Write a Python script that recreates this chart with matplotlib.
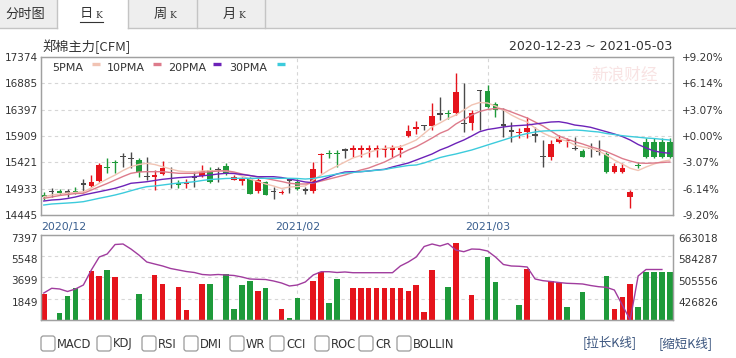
import matplotlib
matplotlib.use('Agg')
import matplotlib.pyplot as plt
import matplotlib.transforms as mtransforms
from matplotlib.patches import Rectangle, FancyBboxPatch
import numpy as np

plt.rcParams['font.family'] = ['DejaVu Sans', 'Noto Sans CJK SC']
CJK = ['Noto Sans CJK SC', 'DejaVu Sans']

# ---------------- data ----------------
opens = [14834, 14877, 14890, 14871, 14890, 15020, 15001, 15094, 15339, 15437,
         15526, 15496, 15478, 15155, 15155, 15218, 15229, 15038, 15029, 15149,
         15186, 15292, 15292, 15372, 15107, 15094, 15125, 14895, 15062, 14877,
         14858, 15094, 15062, 14908, 14908, 15567, 15598, 15598, 15650, 15663,
         15663, 15663, 15663, 15663, 15663, 15663, 15928, 16045, 16101, 16101,
         16317, 16340, 16342, 16145, 16164, 16749, 16749, 16516, 16113, 16002,
         15980, 15989, 15928, 15526, 15526, 15804, 15826, 15681, 15650, 15681,
         15618, 15589, 15261, 15261, 14784, 15381, 15804, 15804, 15804, 15804]
highs = [14877, 14945, 14927, 14927, 14958, 15107, 15186, 15403, 15502, 15464,
         15589, 15607, 15496, 15520, 15279, 15452, 15340, 15094, 15107, 15242,
         15372, 15340, 15335, 15403, 15186, 15155, 15155, 15125, 15081, 14970,
         14908, 15112, 15107, 14958, 15433, 15594, 15650, 15650, 15681, 15743,
         15743, 15743, 15743, 15743, 15743, 15743, 16113, 16193, 16113, 16516,
         16627, 16392, 17083, 16887, 16392, 16762, 16855, 16545, 16423, 16175,
         16052, 16267, 16071, 15835, 15835, 15928, 15867, 15897, 15669, 15774,
         15835, 15618, 15403, 15403, 14908, 15433, 15867, 15867, 15867, 15867]
lows = [14723, 14784, 14816, 14779, 14834, 14877, 14970, 15062, 15224, 15224,
        15340, 15311, 15155, 15094, 14908, 15186, 14940, 14945, 14940, 14964,
        15155, 15044, 15062, 15186, 15094, 15001, 14834, 14847, 14816, 14736,
        14834, 14853, 14908, 14834, 14847, 15218, 15496, 15340, 15496, 15526,
        15526, 15526, 15526, 15526, 15526, 15526, 15897, 15947, 16021, 16021,
        16206, 16219, 16299, 15989, 16021, 16021, 16423, 16267, 15891, 15804,
        15867, 15867, 15804, 15340, 15464, 15774, 15711, 15650, 15520, 15526,
        15557, 15218, 15218, 15218, 14569, 15311, 15496, 15496, 15496, 15496]
closes = [14797, 14877, 14871, 14871, 14871, 15020, 15062, 15385, 15320, 15418,
          15526, 15496, 15248, 15155, 15205, 15322, 15229, 15020, 15062, 15149,
          15266, 15062, 15292, 15218, 15155, 15136, 14847, 15107, 14834, 14877,
          14890, 15094, 14940, 14908, 15311, 15589, 15580, 15580, 15650, 15700,
          15700, 15700, 15700, 15700, 15700, 15700, 16008, 16095, 16101, 16299,
          16317, 16321, 16744, 16145, 16342, 16749, 16453, 16405, 16113, 16002,
          16000, 16071, 15928, 15526, 15774, 15867, 15845, 15681, 15526, 15681,
          15618, 15248, 15372, 15329, 14877, 15363, 15526, 15526, 15526, 15526]

ma5 = [14784, 14816, 14834, 14853, 14862, 14877, 14945, 15033, 15112, 15186,
       15270, 15340, 15381, 15403, 15381, 15340, 15298, 15261, 15248, 15248,
       15261, 15266, 15261, 15261, 15224, 15168, 15112, 15066, 15020, 14983,
       14936, 14964, 14973, 14983, 15094, 15186, 15279, 15353, 15427, 15502,
       15548, 15604, 15650, 15681, 15696, 15711, 15770, 15835, 15956, 16077,
       16151, 16234, 16299, 16391, 16484, 16531, 16521, 16466, 16391, 16299,
       16225, 16169, 16058, 15965, 15897, 15854, 15817, 15743, 15706, 15681,
       15632, 15557, 15464, 15390, 15311, 15270, 15335, 15390, 15437, 15464]
ma10 = [14755, 14779, 14806, 14825, 14843, 14847, 14908, 14970, 15029, 15094,
        15159, 15218, 15242, 15248, 15248, 15248, 15233, 15218, 15218, 15218,
        15233, 15248, 15261, 15266, 15242, 15205, 15177, 15149, 15122, 15094,
        15066, 15033, 15020, 15020, 15038, 15075, 15112, 15149, 15186, 15233,
        15279, 15316, 15372, 15427, 15502, 15576, 15650, 15711, 15789, 15872,
        15960, 16021, 16132, 16215, 16299, 16364, 16401, 16419, 16410, 16355,
        16299, 16243, 16169, 16095, 16002, 15909, 15854, 15804, 15761, 15711,
        15669, 15619, 15557, 15492, 15446, 15409, 15403, 15409, 15418, 15427]
ma20 = [14704, 14723, 14732, 14751, 14779, 14816, 14847, 14877, 14908, 14940,
        14983, 15033, 15047, 15062, 15085, 15107, 15122, 15137, 15146, 15155,
        15172, 15186, 15205, 15218, 15214, 15196, 15177, 15155, 15155, 15155,
        15140, 15112, 15085, 15057, 15044, 15094, 15149, 15205, 15242, 15248,
        15248, 15261, 15279, 15292, 15335, 15372, 15409, 15464, 15520, 15576,
        15650, 15706, 15774, 15835, 15909, 15989, 16030, 16052, 16077, 16095,
        16104, 16113, 16132, 16151, 16169, 16175, 16151, 16113, 16095, 16071,
        16030, 15989, 15947, 15900, 15835, 15752, 15688, 15632, 15604, 15589]
ma30 = [14630, 14649, 14658, 14667, 14677, 14692, 14723, 14755, 14784, 14816,
        14853, 14895, 14936, 14970, 14983, 15001, 15020, 15038, 15047, 15062,
        15085, 15103, 15112, 15122, 15125, 15125, 15125, 15125, 15125, 15125,
        15125, 15125, 15122, 15112, 15122, 15149, 15177, 15205, 15224, 15233,
        15248, 15261, 15274, 15288, 15316, 15340, 15363, 15372, 15410, 15460,
        15510, 15545, 15576, 15613, 15650, 15696, 15743, 15789, 15835, 15882,
        15919, 15956, 15984, 16002, 16008, 16012, 16012, 16021, 16012, 15997,
        15984, 15956, 15937, 15915, 15900, 15887, 15872, 15863, 15848, 15835]

volume = [2262, 0, 583, 2114, 2755, 0, 4263, 3828, 4350, 3741,
          0, 0, 2236, 0, 3915, 3132, 0, 2845, 844, 0,
          3132, 3132, 0, 4028, 931, 3045, 3419, 2549, 2758, 0,
          957, 148, 1940, 0, 3419, 4202, 1453, 3541, 0, 2758,
          2758, 2758, 2758, 2758, 2758, 2758, 2523, 3045, 725, 4350,
          0, 2845, 6670, 0, 2175, 0, 5455, 3332, 0, 0,
          1305, 4411, 0, 0, 3393, 3193, 1105, 0, 2462, 0,
          0, 3854, 957, 2027, 3132, 1105, 4202, 4202, 4202, 4202]
# r = up day, g = down day, x = no volume
vol_side = list('rxgggxrrgr' 'xxgxrrxrrx' 'rgxggggrgx' 'rggxrrggxr'
                'rrrrrrrrrr' 'xgrxrxggxx' 'grxxrrgxgx' 'xgrrrggggg')
open_interest = [448100, 465600, 463000, 453700, 463000, 477800, 533300, 581500, 592600, 627800,
                 629700, 611100, 588900, 563000, 555500, 548200, 538900, 533300, 527700, 524100,
                 516700, 514800, 516700, 514800, 513000, 507400, 500000, 498900, 498100, 492600,
                 485200, 474100, 477800, 488900, 514800, 527000, 527000, 524100, 526000, 523300,
                 523300, 523300, 523300, 523300, 523300, 548200, 563000, 581500, 620400, 629700,
                 622300, 631500, 607400, 601100, 611100, 610000, 603700, 581500, 553700, 548200,
                 547100, 544500, 500000, 493700, 490700, 487000, 484100, 483000, 481500, 475900,
                 471500, 469200, 459200, 403700, 348100, 511100, 535200, 535200, 535200, np.nan]

price_ticks = [14445, 14933, 15421, 15909, 16397, 16885, 17374]
pct_labels = ['-9.20%', '-6.14%', '-3.07%', '+0.00%', '+3.07%', '+6.14%', '+9.20%']
vol_ticks = [1849, 3699, 5548, 7397]
oi_ticks = [426826, 505556, 584287, 663018]
month_labels = ['2020/12', '2021/02', '2021/03']
month_pos = [0, 32, 56]
ma_names = ['5PMA', '10PMA', '20PMA', '30PMA']
indicators = ['MACD', 'KDJ', 'RSI', 'DMI', 'WR', 'CCI', 'ROC', 'CR', 'BOLLIN']

# ---------------- styling ----------------
RED = '#e5141c'
GREEN = '#1e9a3a'
DOJI = '#4a4a4a'
MA_COLORS = ['#f1c3b3', '#dd7b8b', '#6c22b8', '#3ccbdc']
OI_COLOR = '#a03c9e'
FRAME = '#a0a0a0'
GRID = '#d6d6d6'
TXT = '#333333'

W, H = 736, 358
fig = plt.figure(figsize=(W / 100, H / 100), dpi=100)


def rect(x0, y0, x1, y1):
    # pixel box (top-left origin) -> figure fraction
    return [x0 / W, 1 - y1 / H, (x1 - x0) / W, (y1 - y0) / H]


# background layer in pixel coordinates
bg = fig.add_axes([0, 0, 1, 1])
bg.set_xlim(0, W)
bg.set_ylim(H, 0)
bg.axis('off')

# tab bar
bg.add_patch(Rectangle((0, 0), W, 28, facecolor='#eeeeee', edgecolor='none'))
bg.add_patch(Rectangle((57, 0), 71, 29, facecolor='white', edgecolor='none'))
bg.plot([0, 57], [28, 28], color='#c4c4c4', lw=1)
bg.plot([128, W], [28, 28], color='#c4c4c4', lw=1)
for sx in [57, 128, 197, 265]:
    bg.plot([sx, sx], [0, 28], color='#c4c4c4', lw=1)
bg.text(25, 14, '分时图', ha='center', va='center', fontsize=9.5, family=CJK, color=TXT)
for cx, word in [(86, '日'), (160, '周'), (229, '月')]:
    bg.text(cx, 14, word, ha='center', va='center', fontsize=9.5, family=CJK, color=TXT)
    bg.text(cx + 13, 15, 'K', ha='center', va='center', fontsize=6.5, family=['DejaVu Serif'],
            color=TXT)
bg.plot([80, 103], [22, 22], color=TXT, lw=0.8)

# title and date range
bg.text(42, 47, '郑棉主力[CFM]', ha='left', va='center', fontsize=9.5, family=CJK, color=TXT)
bg.text(672, 46, '2020-12-23 ~ 2021-05-03', ha='right', va='center', fontsize=9, color=TXT)

x = np.arange(len(closes))
cols = []
for o, c in zip(opens, closes):
    if c > o:
        cols.append(RED)
    elif c < o:
        cols.append(GREEN)
    else:
        cols.append(DOJI)
body_bottom = [min(o, c) - 10 for o, c in zip(opens, closes)]
body_height = [max(abs(c - o), 20) for o, c in zip(opens, closes)]

# ---------------- price panel ----------------
ax = fig.add_axes(rect(41, 57, 673, 215))
for p in price_ticks[1:-1]:
    ax.axhline(p, color=GRID, lw=0.8, ls=(0, (3, 3)), zorder=0)
for p in month_pos[1:]:
    ax.axvline(p, color=GRID, lw=0.8, ls=(0, (3, 3)), zorder=0)
ax.vlines(x, lows, highs, colors=cols, lw=1.0, zorder=2)
ax.bar(x, body_height, bottom=body_bottom, width=0.7, color=cols, lw=0, zorder=3)
for ma, c in zip([ma5, ma10, ma20, ma30], MA_COLORS):
    ax.plot(x, ma, color=c, lw=1.0, zorder=4)
ax.set_xlim(-0.35, 79.4)
ax.set_ylim(price_ticks[0], price_ticks[-1])
ax.set_xticks([])
ax.set_yticks(price_ticks)
ax.set_yticklabels([str(p) for p in price_ticks])
ax.tick_params(axis='y', length=0, pad=2.2, labelsize=7.5, labelcolor=TXT)
ax_r = ax.twinx()
ax_r.set_ylim(price_ticks[0], price_ticks[-1])
ax_r.set_yticks(price_ticks)
ax_r.set_yticklabels(pct_labels)
ax_r.tick_params(axis='y', length=0, pad=6.5, labelsize=7.5, labelcolor=TXT)
for a in (ax, ax_r):
    for s in a.spines.values():
        s.set_color(FRAME)
        s.set_linewidth(0.9)

# legend row inside the price panel
leg_text_x = [52, 107, 168, 229]
leg_swatch_x = [92, 153, 213, 277]
for name, tx, sx, c in zip(ma_names, leg_text_x, leg_swatch_x, MA_COLORS):
    ax.text(tx, 68, name, transform=bg.transData, ha='left', va='center', fontsize=8,
            color=TXT, zorder=6)
    ax.plot([sx, sx + 8], [64, 64], transform=bg.transData, color=c, lw=2.4,
            solid_capstyle='butt', zorder=6, clip_on=False)

# faint watermark
ax.text(625, 75, '新浪财经', transform=bg.transData, ha='center', va='center',
        fontsize=12, family=CJK, color='#f8e3e3', zorder=1)

# month labels between the panels
lbl_tf = mtransforms.blended_transform_factory(ax.transData, bg.transData)
for lab, pos in zip(month_labels, month_pos):
    if pos == 0:
        bg.text(41, 227, lab, ha='left', va='center', fontsize=7.8, color='#3a5f8f')
    else:
        bg.text(pos, 227, lab, transform=lbl_tf, ha='center', va='center', fontsize=7.8,
                color='#3a5f8f')

# ---------------- volume panel ----------------
axv = fig.add_axes(rect(41, 235, 673, 320))
for v in vol_ticks[:-1]:
    axv.axhline(v, color=GRID, lw=0.8, ls=(0, (3, 3)), zorder=0)
for p in month_pos[1:]:
    axv.axvline(p, color=GRID, lw=0.8, ls=(0, (3, 3)), zorder=0)
vcols = [RED if s == 'r' else GREEN for s in vol_side]
axv.bar(x, volume, width=0.7, color=vcols, lw=0, zorder=2)
axv.set_xlim(-0.35, 79.4)
axv.set_ylim(0, vol_ticks[-1])
axv.set_xticks([])
axv.set_yticks([])
axo = axv.twinx()
axo.plot(x, open_interest, color=OI_COLOR, lw=1.0)
axo.set_ylim(oi_ticks[0] - (oi_ticks[1] - oi_ticks[0]), oi_ticks[-1])
axo.set_yticks([])
for a in (axv, axo):
    for s in a.spines.values():
        s.set_color(FRAME)
        s.set_linewidth(0.9)

down = mtransforms.ScaledTranslation(0, -4 / 100, fig.dpi_scale_trans)
tf_l = mtransforms.blended_transform_factory(axv.transAxes, axv.transData) + down
tf_r = mtransforms.blended_transform_factory(axo.transAxes, axo.transData) + down
for v in vol_ticks:
    axv.text(-0.005, v, str(v), transform=tf_l, ha='right', va='center', fontsize=7.5,
             color=TXT, clip_on=False)
for v in oi_ticks:
    axo.text(1.008, v, str(v), transform=tf_r, ha='left', va='center', fontsize=7.5,
             color=TXT, clip_on=False)

# ---------------- indicator checkboxes ----------------
box_x = [41, 97, 142, 184, 230, 270, 315, 359, 397]
for name, bx in zip(indicators, box_x):
    bg.add_patch(FancyBboxPatch((bx, 336), 14, 15, boxstyle='round,pad=0,rounding_size=2.5',
                                facecolor='white', edgecolor='#9a9a9a', lw=0.9))
    bg.text(bx + 16, 344, name, ha='left', va='center', fontsize=8.3, color=TXT)
bg.text(583, 343, '[拉长K线]', ha='left', va='center', fontsize=9, family=CJK, color='#3b557e')
bg.text(659, 343, '[缩短K线]', ha='left', va='center', fontsize=9, family=CJK, color='#3b557e')

fig.savefig('out.png', dpi=100)
